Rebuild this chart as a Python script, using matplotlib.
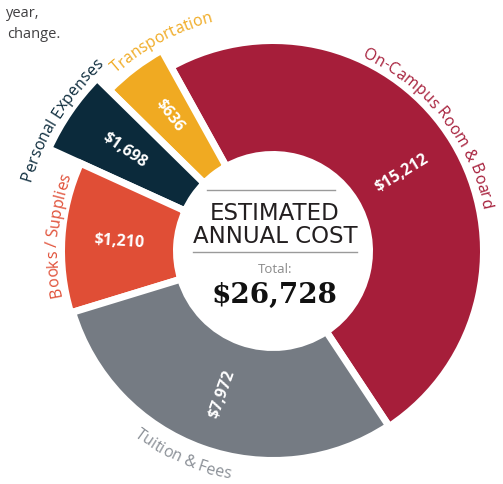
import numpy as np
import matplotlib.pyplot as plt
from matplotlib.font_manager import findfont, FontProperties
from matplotlib.ft2font import FT2Font

# slices, counter-clockwise starting at the red / grey boundary
categories = ["On-Campus Room & Board", "Transportation", "Personal Expenses",
              "Books / Supplies", "Tuition & Fees"]
values = [15212, 636, 1698, 1210, 7972]
spans = [175.5, 16.5, 20.0, 41.5, 106.5]      # angular width of each slice (deg)
outer = [207, 226, 243, 208, 206]             # outer radius of each slice
colors = ["#A61E3A", "#F0AA22", "#0B2A3B", "#E04E36", "#757B83"]
label_colors = ["#A61E3A", "#F0AA22", "#0B2A3B", "#E04E36", "#8A8F96"]
total = sum(values)

# layout (pixels, radius units are pixels too)
W, H = 503, 485
cx, cy = 273, 252
R = 280
inner = 100
gap = 7
start = -56.5
value_r = [151, 172, 180, 154, 151]
# (centre angle, baseline radius, reading direction)
label_pos = [(38.5, 214, "cw"), (118, 238, "cw"), (148, 252, "cw"),
             (175.5, 216, "cw"), (-114, 231, "ccw")]

fig = plt.figure(figsize=(W / 100, H / 100), dpi=100)
ax = fig.add_axes([(cx - R) / W, (H - cy - R) / H, 2 * R / W, 2 * R / H],
                  projection="polar")
ax.set_ylim(0, R)
ax.set_axis_off()

edges = start + np.concatenate([[0], np.cumsum(spans)])
mids = (edges[:-1] + edges[1:]) / 2

ax.bar(np.radians(mids), np.array(outer) + gap / 2 - (inner - gap / 2),
       width=np.radians(spans), bottom=inner - gap / 2, color=colors,
       edgecolor="white", linewidth=gap * 0.72, align="center")

# values inside the slices, rotated along the radius and kept upright
for v, m, r in zip(values, mids, value_r):
    rot = (m + 90) % 180 - 90
    ax.text(np.radians(m), r, f"${v:,}", color="white", fontsize=11.5,
            fontweight="bold", family="Open Sans", ha="center", va="center",
            rotation=rot, rotation_mode="anchor")


def advances(s, family, size):
    font = FT2Font(findfont(FontProperties(family=family)))
    font.set_size(size, 100)
    return np.array([font.load_char(ord(c)).linearHoriAdvance / 65536 for c in s])


def curved_text(s, angle, radius, direction, color, size=11.5, family="Open Sans"):
    adv = advances(s, family, size)
    x = np.cumsum(adv) - adv / 2
    off = (adv.sum() / 2 - x) / radius
    sign = 1 if direction == "cw" else -1
    for ch, o in zip(s, off):
        th = np.radians(angle) + sign * o
        rot = np.degrees(th) - 90 * sign
        ax.text(th, radius, ch, color=color, fontsize=size, family=family,
                ha="center", va="baseline", rotation=rot, rotation_mode="anchor")


for name, c, (a, r, d) in zip(categories, label_colors, label_pos):
    curved_text(name, a, r, d, c)

# centre block
line_kw = dict(transform=fig.transFigure, color="#9A9A9A", lw=1)
fig.add_artist(plt.Line2D([207 / W, 335 / W], [1 - 191 / H] * 2, **line_kw))
fig.add_artist(plt.Line2D([193 / W, 357 / W], [1 - 253 / H] * 2, **line_kw))
fig.text(275 / W, 1 - 220 / H, "ESTIMATED", ha="center", va="baseline",
         fontsize=16.5, color="#231F20", family="DejaVu Sans")
fig.text(275 / W, 1 - 243 / H, "ANNUAL COST", ha="center", va="baseline",
         fontsize=16.5, color="#231F20", family="DejaVu Sans")
fig.text(275 / W, 1 - 273 / H, "Total:", ha="center", va="baseline",
         fontsize=9.5, color="#8A8A8A", family="Open Sans")
fig.text(274 / W, 1 - 303 / H, f"${total:,}", ha="center", va="baseline",
         fontsize=20, fontweight="bold", color="#111111", family="DejaVu Serif")

# tail of a paragraph in the top-left corner
fig.text(39 / W, 1 - 17 / H, "year,", ha="right", va="baseline",
         fontsize=10.5, color="#414042", family="Open Sans")
fig.text(61 / W, 1 - 38 / H, "change.", ha="right", va="baseline",
         fontsize=10.5, color="#414042", family="Open Sans")

fig.savefig("out.png", dpi=100)
